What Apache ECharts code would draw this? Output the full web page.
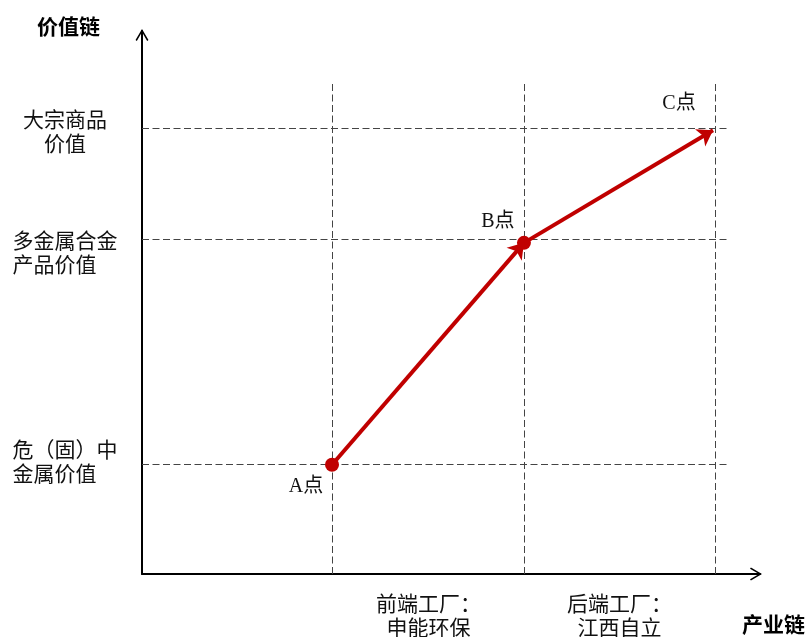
<!DOCTYPE html>
<html>
<head>
<meta charset="utf-8">
<script src="https://cdn.jsdelivr.net/npm/echarts@6/dist/echarts.min.js"></script>
<style>html,body{margin:0;padding:0;background:#fff;}#c{width:808px;height:637px;}</style>
</head>
<body>
<div id="c"></div>
<script>
// Conceptual positions (data units)
const xLevels = [0.995, 2, 3];             // 前端 / 后端 / C dashed verticals
const yLevels = [0.98, 3, 4];              // value level dashed horizontals
const points = [[0.995, 0.98], [2, 2.97], [2.99, 3.98]]; // A, B, C
const pointNames = ['A点', 'B点', 'C点'];
const yLabelPos = [0.987, 2.87, 3.955];
const yLabelText = ['危（固）中\n金属价值', '多金属合金\n产品价值', '大宗商品\n价值'];
const xLabelPos = [1.5, 2.5];
const xLabelText = ['前端工厂：\n申能环保', '后端工厂：\n江西自立'];
const xMax = 3.236, yMax = 4.87;
const hEnd = 3.07, vTop = 4.40;

const FONT = "'Liberation Serif', 'Noto Sans CJK SC', serif";
const chevron = 'path://M0,12 L7,0 L14,12 L12.6,13 L7,3.2 L1.4,13 Z';

const dashData = [];
yLevels.forEach(y => dashData.push({coords: [[0, y], [hEnd, y]]}));
xLevels.forEach(x => dashData.push({coords: [[x, 0], [x, vTop]]}));

const labelOffsets = [[-26, 22], [-26, -21], [-34, -26]];

function yFmt(v) {
  let i = yLabelPos.findIndex(p => Math.abs(p - v) < 1e-6);
  if (i < 0) return '';
  const parts = yLabelText[i].split('\n');
  if (i === 2) return '{c|' + parts[0] + '}\n{c|' + parts[1] + '}';
  return '{c|' + parts[0] + '}\n{l|' + parts[1] + '}';
}
function xFmt(v) {
  let i = xLabelPos.findIndex(p => Math.abs(p - v) < 1e-6);
  return i < 0 ? '' : xLabelText[i];
}

const chart = echarts.init(document.getElementById('c'), null, {renderer: 'canvas'});
chart.setOption({
  backgroundColor: '#fff',
  animation: false,
  grid: {left: 142, right: 48, top: 31, bottom: 63, containLabel: false, outerBoundsMode: 'none'},
  xAxis: {
    type: 'value', min: 0, max: xMax,
    splitLine: {show: false},
    axisTick: {show: false},
    axisLine: {show: true, onZero: false, symbol: ['none', chevron], symbolSize: [14, 12], symbolOffset: [0, -4],
      lineStyle: {color: '#000', width: 2}},
    axisLabel: {
      customValues: xLabelPos, formatter: xFmt, margin: 19,
      color: '#111', fontSize: 21, lineHeight: 24, fontFamily: FONT, align: 'center'
    }
  },
  yAxis: {
    type: 'value', min: 0, max: yMax,
    splitLine: {show: false},
    axisTick: {show: false},
    axisLine: {show: true, onZero: false, symbol: ['none', chevron], symbolSize: [14, 12], symbolOffset: [0, -4],
      lineStyle: {color: '#000', width: 2}},
    axisLabel: {
      customValues: yLabelPos, formatter: yFmt, margin: 77,
      color: '#111', fontSize: 21, lineHeight: 24, fontFamily: FONT, align: 'center',
      rich: {
        c: {align: 'center', fontSize: 21, lineHeight: 24, fontFamily: FONT, color: '#111'},
        l: {align: 'left', fontSize: 21, lineHeight: 24, fontFamily: FONT, color: '#111'}
      }
    }
  },
  graphic: [
    {type: 'text', left: 37, top: 18, style: {text: '价值链', font: "bold 21px " + FONT, fill: '#000'}},
    {type: 'text', left: 742, top: 616, style: {text: '产业链', font: "bold 21px " + FONT, fill: '#000'}}
  ],
  series: [
    {
      type: 'lines', coordinateSystem: 'cartesian2d', silent: true, z: 1,
      lineStyle: {color: '#444', width: 1, type: [7, 3.5], opacity: 1},
      data: dashData
    },
    {
      type: 'lines', coordinateSystem: 'cartesian2d', silent: true, z: 3,
      symbol: ['none', 'arrow'], symbolSize: [13, 15],
      lineStyle: {color: '#C00000', width: 4, opacity: 1},
      data: [{coords: [points[0], points[1]]}, {coords: [points[1], points[2]]}]
    },
    {
      type: 'scatter', z: 4, silent: true,
      data: points.map((p, i) => ({
        value: p,
        symbolSize: i < 2 ? 14 : 0,
        label: {show: true, position: 'inside', offset: labelOffsets[i], formatter: pointNames[i],
          color: '#111', fontSize: 20, fontFamily: FONT}
      })),
      itemStyle: {color: '#C00000', opacity: 1}
    }
  ]
});
</script>
</body>
</html>
